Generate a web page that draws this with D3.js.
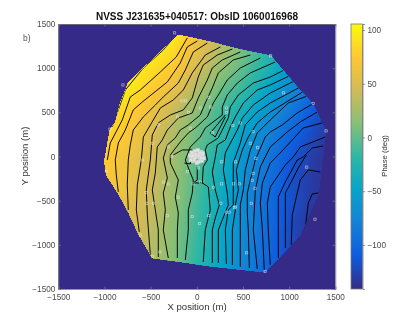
<!DOCTYPE html>
<html>
<meta charset="utf-8">
<title>NVSS J231635+040517</title>
<style>
  body { margin: 0; background: #fff; }
  svg { display: block; filter: blur(0.3px); font-family: "Liberation Sans", Arial, sans-serif; }
  .tick text { font-size: 8.2px; fill: #4a4a4a; }
  .axis path, .axis line { stroke: #7a7a7a; stroke-width: 0.8px; fill: none; }
  .contour-line { fill: none; stroke: #000; stroke-width: 0.95px; stroke-linejoin: round; }
  .outer { fill: none; stroke: #e8e8e8; stroke-width: 0.7px; opacity: 0.7; }
  .core { fill: #e2e2e2; stroke: #d0d0d0; stroke-width: 0.6px; }
</style>
<body>
<script src="https://d3js.org/d3.v7.min.js"></script>
<script>
var titleText = "NVSS J231635+040517: ObsID 1060016968";
var xTicks = [-1500, -1000, -500, 0, 500, 1000, 1500];
var yTicks = [-1500, -1000, -500, 0, 500, 1000, 1500];
var barTicks = [100, 50, 0, -50, -100];
var phaseRange = [-141, 105.6];

// parula
var parula = ["#352a87", "#0f5cdd", "#1481d6", "#06a4ca", "#2eb7a4", "#87bf77", "#d1bb59", "#fec832", "#f9fb0e"];

// array edge, x / y position in metres
var arrayEdge = [[-200,1376],[-30,1340],[150,1295],[470,1210],[800,1140],[1090,785],[1260,595],[1400,290],[1370,-40],[1320,-430],[1120,-900],[740,-1310],[130,-1240],[-200,-1190],[-480,-1150],[-630,-880],[-740,-630],[-850,-420],[-980,-210],[-1000,-50],[-940,300],[-880,390],[-830,600],[-740,840]];

// phase, every 250 m, top row first
var gridX = [-1500,-1250,-1000,-750,-500,-250,0,250,500,750,1000,1250,1500];
var gridY = [1500,1250,1000,750,500,250,0,-250,-500,-750,-1000,-1250,-1500];
var phaseGrid = [
  [140,130,125,120,115,110,80,50,25,-5,-30,-60,-90],
  [125,120,115,110,105,90,60,35,10,-15,-40,-70,-95],
  [115,110,105,100,90,75,48,20,0,-25,-55,-80,-105],
  [105,105,100,95,78,58,30,5,-15,-45,-70,-95,-120],
  [100,100,92,82,62,40,15,-10,-35,-60,-85,-110,-130],
  [95,95,85,72,52,30,5,-15,-50,-75,-100,-120,-135],
  [90,85,78,65,47,25,-2,-30,-60,-85,-110,-128,-140],
  [88,82,75,62,45,22,-5,-35,-65,-90,-115,-130,-140],
  [85,80,72,58,42,20,-8,-38,-68,-95,-115,-130,-140],
  [80,76,68,55,38,16,-12,-40,-70,-95,-118,-135,-140],
  [78,74,66,52,35,14,-15,-42,-72,-98,-120,-135,-140],
  [75,72,64,50,33,12,-18,-45,-75,-100,-120,-135,-140],
  [75,72,64,50,33,12,-18,-45,-75,-100,-120,-135,-140]
];

// black contours, metres
var contourLines = [
  [[-233,1364],[-363,1206],[-579,1002],[-774,753],[-850,527],[-915,334]],
  [[-103,1342],[-222,1127],[-395,957],[-612,753],[-720,674],[-807,414],[-937,153],[-969,-39]],
  [[5,1308],[-103,1240],[-179,1059],[-319,844],[-590,617],[-688,527],[-774,300],[-850,153],[-883,-39],[-872,-209],[-850,-401]],
  [[114,1285],[-38,1183],[-124,980],[-200,832],[-363,674],[-449,583],[-579,448],[-688,300],[-720,131],[-742,-39],[-753,-322],[-742,-605]],
  [[255,1240],[92,1149],[-49,946],[-146,753],[-254,640],[-395,549],[-503,357],[-579,221],[-601,-39],[-644,-322],[-655,-605],[-623,-854]],
  [[385,1217],[222,1149],[70,1036],[16,900],[-49,663],[-146,527],[-287,470],[-417,380],[-482,244],[-503,-39],[-547,-379],[-536,-662],[-503,-1115]],
  [[471,1183],[276,1093],[168,1002],[114,866],[16,663],[-49,493],[-200,436],[-319,300],[-374,187],[-428,108],[-449,-186],[-482,-379],[-449,-605],[-417,-832],[-417,-1137]],
  [[580,1149],[395,1093],[233,946],[168,776],[92,606],[38,470],[-92,357],[-179,300],[-233,210],[-319,131],[-363,-17],[-319,-243],[-363,-413],[-341,-605],[-363,-832],[-309,-1149]],
  [[688,1115],[471,1002],[330,866],[233,697],[179,606],[114,448],[-16,323],[-92,266],[-179,165],[-287,17],[-287,-73],[-200,-266],[-233,-458],[-200,-639],[-211,-832],[-211,-1149]],
  [[850,1070],[580,946],[439,832],[330,697],[276,561],[276,470],[92,323],[38,221],[-70,108],[-124,-39],[-70,-186],[-38,-266],[-49,-413],[-92,-605],[-92,-832],[-124,-1171]],
  [[948,980],[796,900],[612,832],[450,697],[363,561],[341,436],[233,210],[114,131],[92,74],[114,-39],[70,-118],[60,-300],[125,-345],[146,-605],[92,-832],[70,-1194]],
  [[1002,912],[796,810],[655,753],[504,606],[417,448],[363,334],[309,187],[222,131],[200,-5],[168,-175],[200,-379],[244,-549],[200,-696],[168,-832],[168,-1205]],
  [[1056,855],[796,719],[612,583],[493,436],[439,300],[309,40],[287,-152],[330,-413],[341,-549],[276,-718],[233,-832],[233,-1205]],
  [[1121,787],[796,606],[655,504],[525,357],[471,153],[395,-73],[395,-345],[395,-549],[341,-605],[309,-832],[320,-1216]],
  [[1164,742],[796,504],[655,380],[558,221],[493,74],[428,-152],[450,-379],[417,-549],[417,-605],[385,-832],[385,-1228]],
  [[1197,685],[991,606],[796,414],[655,266],[580,74],[525,-152],[504,-379],[471,-549],[471,-832],[471,-1250]],
  [[1272,606],[1088,493],[926,357],[796,278],[742,221],[634,-39],[580,-266],[547,-413],[547,-639],[558,-832],[569,-1262]],
  [[1305,504],[1121,391],[980,278],[796,108],[688,-118],[634,-379],[623,-605],[612,-832],[655,-1273]],
  [[1359,380],[1153,323],[1034,187],[883,17],[796,-73],[710,-300],[688,-526],[710,-832],[731,-1284]],
  [[1392,221],[1121,108],[1045,-5],[959,-96],[796,-345],[764,-526],[774,-832],[796,-1228]],
  [[1370,119],[1251,97],[1153,-5],[1088,-39],[959,-288],[883,-458],[883,-775],[883,-1149]],
  [[1186,17],[1099,-130],[1034,-266],[959,-413],[959,-775],[959,-1035]],
  [[1338,-175],[1207,-152],[1121,-266],[1088,-413],[1034,-662],[1023,-1001]],
  [[1316,-413],[1251,-424],[1208,-526],[1175,-809]],
  [[309,470],[146,266],[200,221],[309,447]],
  [[5,-118],[5,-266],[-38,-300],[70,-300]],
  [[-254,17],[-157,74],[-49,74]],
  [[-135,-73],[-70,-85],[-49,-17]]
];

// antennas outside the core
var antennaX = [-240,-800,-940,-160,-120,40,-90,-210,-420,-480,-310,-70,-270,-590,800,940,1260,1400,130,150,320,320,390,470,610,580,660,640,420,270,170,-980,-360,-310,-550,-540,-470,-200,-320,-50,30,130,-40,40,-480,-610,-400,-100,20,1190,610,600,630,460,400,270,180,260,590,420,410,350,320,540,740,1280];
var antennaY = [1400,810,310,630,630,550,500,450,360,150,110,320,0,-40,1140,720,600,290,670,560,550,500,350,380,280,150,100,-20,-60,-60,270,-170,-290,-310,-410,-530,-530,-460,-670,-680,-760,-670,-310,-290,-1130,-890,-1080,-170,-130,-120,-190,-270,-360,-310,-310,-310,-350,-530,-530,-570,-580,-630,-630,-1090,-1300,-710];
// the dense core, drawn over each other
var coreX = [5,-40,40,-60,60,-20,20,-75,75,-40,45,0,-30,30,-55,55,10,-10,-65,65,25,-25,45,-45];
var coreY = [-5,30,-30,-20,20,60,-60,10,-20,-50,50,-70,-40,40,45,-50,70,20,-40,35,5,-15,-15,10];

var margin = {top: 24, left: 58.3, plotW: 277, plotH: 265};
var width = 415, height = 325;

var svg = d3.select("body").append("svg").attr("width", width).attr("height", height);

var x = d3.scaleLinear().domain([-1500, 1500]).range([margin.left, margin.left + margin.plotW]);
var y = d3.scaleLinear().domain([-1500, 1500]).range([margin.top + margin.plotH, margin.top]);

var color = d3.scaleLinear()
    .domain(parula.map(function(d, i) { return phaseRange[0] + (phaseRange[1] - phaseRange[0]) * i / (parula.length - 1); }))
    .range(parula);

var defs = svg.append("defs");
defs.append("clipPath").attr("id", "edge").append("polygon")
    .attr("points", arrayEdge.map(function(d) { return x(d[0]) + "," + y(d[1]); }).join(" "));

var grad = defs.append("linearGradient").attr("id", "bar")
    .attr("x1", 0).attr("x2", 0).attr("y1", 1).attr("y2", 0);
parula.forEach(function(c, i) {
  grad.append("stop").attr("offset", i / (parula.length - 1)).attr("stop-color", c);
});

// plot background
svg.append("rect")
    .attr("x", x(-1500)).attr("y", y(1500))
    .attr("width", margin.plotW).attr("height", margin.plotH)
    .attr("fill", parula[0]);

// filled phase surface
var flat = d3.merge(phaseGrid);
var step = gridX[1] - gridX[0];
var contours = d3.contours()
    .size([gridX.length, gridY.length])
    .thresholds(d3.range(-150, 150, 1.5))(flat);

var gridPath = d3.geoPath(d3.geoTransform({
  point: function(px, py) {
    this.stream.point(x(gridX[0] + (px - 0.5) * step), y(gridY[0] - (py - 0.5) * step));
  }
}));

var map = svg.append("g").attr("clip-path", "url(#edge)");
map.selectAll("path.band")
    .data(contours)
  .enter().append("path")
    .attr("class", "band")
    .attr("d", gridPath)
    .attr("fill", function(d) { return color(Math.max(phaseRange[0], Math.min(phaseRange[1], d.value))); });

var line = d3.line().x(function(d) { return x(d[0]); }).y(function(d) { return y(d[1]); });
map.selectAll("path.contour-line")
    .data(contourLines)
  .enter().append("path")
    .attr("class", "contour-line")
    .attr("d", line);

// antennas
function addAntennas(xs, ys, cls, size) {
  svg.append("g").selectAll("rect")
      .data(xs)
    .enter().append("rect")
      .attr("class", cls)
      .attr("x", function(d) { return x(d) - size / 2; })
      .attr("y", function(d, i) { return y(ys[i]) - size / 2; })
      .attr("width", size).attr("height", size);
}
addAntennas(antennaX, antennaY, "outer", 2.2);
addAntennas(coreX, coreY, "core", 3.4);

// axes
svg.append("g").attr("class", "axis")
    .attr("transform", "translate(0," + y(-1500) + ")")
    .call(d3.axisBottom(x).tickValues(xTicks).tickFormat(d3.format("d")).tickSize(-2.5).tickPadding(5));
svg.append("g").attr("class", "axis")
    .attr("transform", "translate(" + x(-1500) + ",0)")
    .call(d3.axisLeft(y).tickValues(yTicks).tickFormat(d3.format("d")).tickSize(-2.5).tickPadding(3));
svg.append("g").attr("class", "axis")
    .attr("transform", "translate(0," + y(1500) + ")")
    .call(d3.axisTop(x).tickValues(xTicks).tickFormat("").tickSize(-2.5));
svg.append("g").attr("class", "axis")
    .attr("transform", "translate(" + x(1500) + ",0)")
    .call(d3.axisRight(y).tickValues(yTicks).tickFormat("").tickSize(-2.5));

// colour bar
var barX = 351, barW = 11.5;
var barScale = d3.scaleLinear().domain(phaseRange).range([margin.top + margin.plotH, margin.top]);
svg.append("rect")
    .attr("x", barX).attr("y", margin.top)
    .attr("width", barW).attr("height", margin.plotH)
    .attr("fill", "url(#bar)");
svg.append("g").attr("class", "axis")
    .attr("transform", "translate(" + (barX + barW) + ",0)")
    .call(d3.axisRight(barScale).tickValues(barTicks).tickSize(2.5).tickPadding(2.5));
svg.append("rect")
    .attr("x", barX).attr("y", margin.top)
    .attr("width", barW).attr("height", margin.plotH)
    .attr("fill", "none").attr("stroke", "#7a7a7a").attr("stroke-width", 0.8);

// labels
svg.append("text")
    .attr("x", 197).attr("y", 19.5)
    .attr("text-anchor", "middle")
    .style("font-size", "10px").style("font-weight", "bold").style("fill", "#111")
    .text(titleText);
svg.append("text")
    .attr("x", 23).attr("y", 41)
    .style("font-size", "8.5px").style("fill", "#555")
    .text("b)");
svg.append("text")
    .attr("x", 197).attr("y", 310)
    .attr("text-anchor", "middle")
    .style("font-size", "9.6px").style("fill", "#333")
    .text("X position (m)");
svg.append("text")
    .attr("transform", "translate(28,156) rotate(-90)")
    .attr("text-anchor", "middle")
    .style("font-size", "9.6px").style("fill", "#333")
    .text("Y position (m)");
svg.append("text")
    .attr("transform", "translate(387,156) rotate(-90)")
    .attr("text-anchor", "middle")
    .style("font-size", "7.6px").style("fill", "#333")
    .text("Phase (deg)");
</script>
</body>
</html>
